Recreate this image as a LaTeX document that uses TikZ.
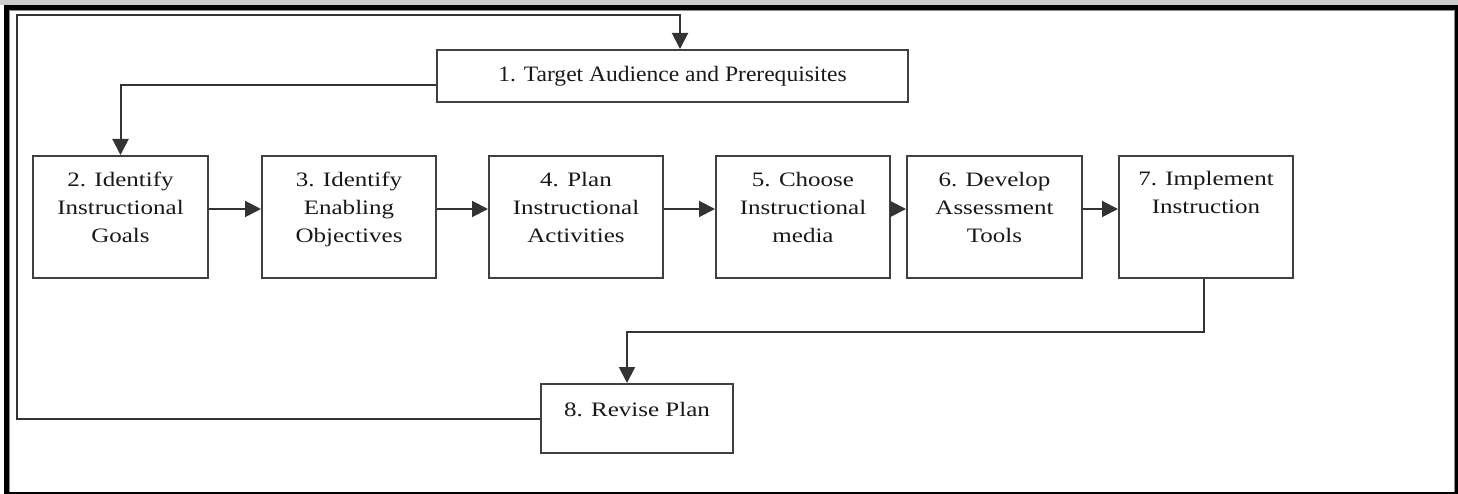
\documentclass[tikz,border=0pt]{standalone}
\usepackage{fontspec}
\setmainfont{Liberation Serif}
\newfontfamily\boxfont{Liberation Serif}[FakeStretch=1.22]
\newfontfamily\headfont{Liberation Serif}[FakeStretch=1.07]
\usetikzlibrary{arrows.meta}

% text of a step box: top-aligned lines, first baseline at a fixed depth
\newcommand{\steptext}[4]{\parbox[c][#2pt][t]{#1pt}{\centering\boxfont\fontsize{20.5}{28}\selectfont\rule{0pt}{#3pt}#4}}

\tikzset{
  stepbox/.style={draw=black!75, line width=2pt, fill=white, rectangle, inner sep=0pt, text=black!90},
  arr/.style={draw=black!80, line width=2pt, -{Triangle[length=16pt,width=16pt]}},
  link/.style={draw=black!80, line width=2pt}
}

\begin{document}
\begin{tikzpicture}[x=1pt, y=-1pt]
  \useasboundingbox (0,0) rectangle (1458,494);
  % window frame
  \fill[black!20] (0,0) rectangle (1458,5);
  \fill[white] (0,5) rectangle (4,494);
  \fill[black] (4,5) rectangle (1458,494);
  \fill[white] (9,10) rectangle (1455,492);
  \draw[black!45, line width=1pt] (9.5,492) -- (9.5,10.5) -- (1454.5,10.5) -- (1454.5,492);

  % step boxes
  \node[stepbox, minimum width=471pt, minimum height=52pt] (b1) at (672.5,76)
    {\headfont\fontsize{22}{26}\selectfont 1. Target Audience and Prerequisites};
  \node[stepbox] (b2) at (120.5,217) {\steptext{175}{122}{31}{2. Identify\\Instructional\\Goals}};
  \node[stepbox] (b3) at (349,217) {\steptext{174}{122}{31}{3. Identify\\Enabling\\Objectives}};
  \node[stepbox] (b4) at (576,217) {\steptext{174}{122}{31}{4. Plan\\Instructional\\Activities}};
  \node[stepbox] (b5) at (803,217) {\steptext{174}{122}{31}{5. Choose\\Instructional\\media}};
  \node[stepbox] (b6) at (994.5,217) {\steptext{175}{122}{31}{6. Develop\\Assessment\\Tools}};
  \node[stepbox] (b7) at (1206,217) {\steptext{174}{122}{30}{7. Implement\\Instruction}};
  \node[stepbox] (b8) at (637,418.5) {\steptext{192}{69}{32}{8. Revise Plan}};

  % corner of the feedback loop
  \coordinate (loopL) at (17,15);

  % connectors
  \draw[arr] ([yshift=-9pt]b1.west) -| (b2.north);
  \draw[arr] ([yshift=8pt]b2.east) -- ([yshift=8pt]b3.west);
  \draw[arr] ([yshift=8pt]b3.east) -- ([yshift=8pt]b4.west);
  \draw[arr] ([yshift=8pt]b4.east) -- ([yshift=8pt]b5.west);
  \draw[arr] ([yshift=8pt]b5.east) -- ([yshift=8pt]b6.west);
  \draw[arr] ([yshift=8pt]b6.east) -- ([yshift=8pt]b7.west);
  \draw[arr] ([xshift=-2pt]b7.south) -- ++(0,53) -| ([xshift=-10pt]b8.north);
  \draw[arr] (b8.west) -| (loopL) -| ([xshift=7.5pt]b1.north);
\end{tikzpicture}
\end{document}
